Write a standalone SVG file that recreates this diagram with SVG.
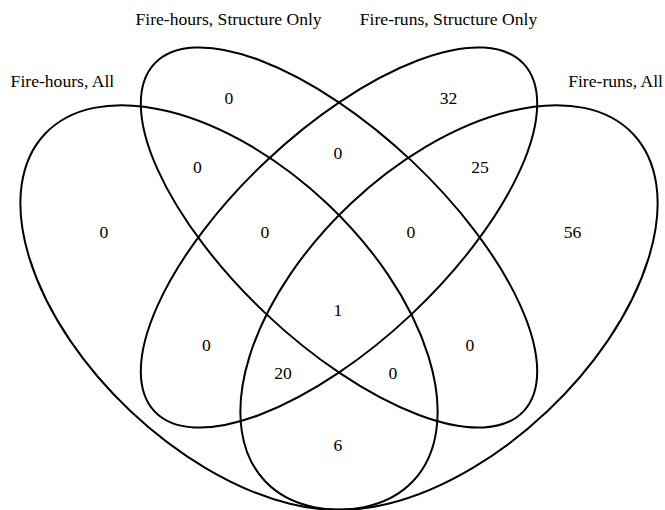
<svg xmlns="http://www.w3.org/2000/svg" width="665" height="510" viewBox="0 0 665 510">
<style>
.e{fill:none;stroke:#000;stroke-width:2}
text{font-family:"Liberation Serif","Times New Roman",serif;font-size:17.6px;fill:#000;text-anchor:middle}
</style>
<rect width="665" height="510" fill="#fff"/>
<g id="connectors"></g>
<g id="set-fire-hours-all"><ellipse class="e" cx="229" cy="307.5" rx="253" ry="143" transform="rotate(43.3 229 307.5)"/></g>
<g id="set-fire-hours-structure"><ellipse class="e" cx="339" cy="237.5" rx="253.5" ry="105.6" transform="rotate(43.3 339 237.5)"/></g>
<g id="set-fire-runs-structure"><ellipse class="e" cx="339" cy="237.5" rx="253.5" ry="105.6" transform="rotate(-43.3 339 237.5)"/></g>
<g id="set-fire-runs-all"><ellipse class="e" cx="449" cy="307.5" rx="253" ry="143" transform="rotate(-43.3 449 307.5)"/></g>
<g id="labels">
<text x="62.4" y="87">Fire-hours, All</text>
<text x="228.6" y="25">Fire-hours, Structure Only</text>
<text x="448.5" y="25">Fire-runs, Structure Only</text>
<text x="615.6" y="87">Fire-runs, All</text>
</g>
<g id="counts">
<text x="229" y="104">0</text>
<text x="448.5" y="104">32</text>
<text x="104" y="238">0</text>
<text x="572.5" y="238">56</text>
<text x="197.5" y="173">0</text>
<text x="338" y="159">0</text>
<text x="480" y="173">25</text>
<text x="265" y="238">0</text>
<text x="411" y="238">0</text>
<text x="338" y="316">1</text>
<text x="206.5" y="351">0</text>
<text x="470" y="351">0</text>
<text x="283" y="379">20</text>
<text x="393" y="379">0</text>
<text x="338" y="451">6</text>
</g>
</svg>
